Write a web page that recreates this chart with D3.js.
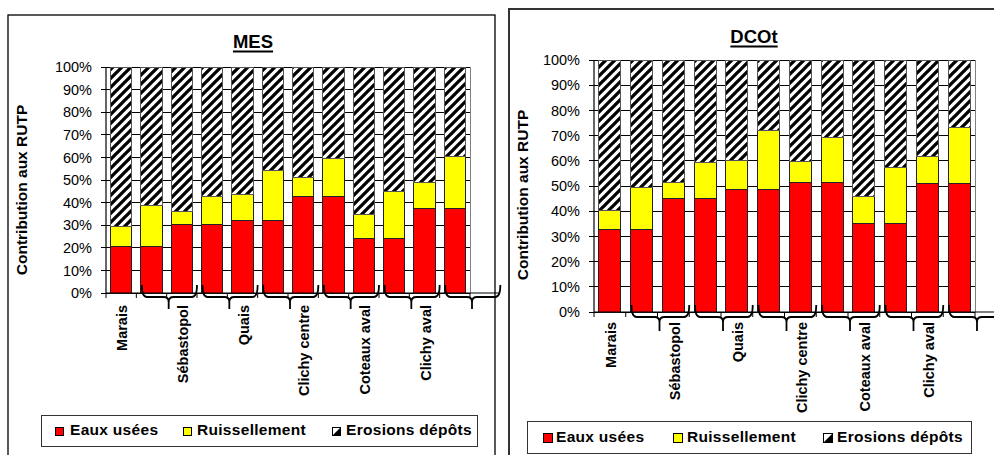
<!DOCTYPE html>
<html><head><meta charset="utf-8">
<script src="https://cdn.jsdelivr.net/npm/d3@7"></script>
<style>
html,body{margin:0;padding:0;background:#fff;}
svg{display:block;font-family:"Liberation Sans",Arial,sans-serif;}
</style></head>
<body>
<svg id="chart" width="994" height="455"></svg>
<script>
// ---- data ----
const categories = ["Marais","","Sébastopol","","Quais","","Clichy centre","","Coteaux aval","","Clichy aval",""];
const seriesNames = ["Eaux usées","Ruissellement","Erosions dépôts"];
const yTicks = [0,10,20,30,40,50,60,70,80,90,100];
const yTickLabels = ["0%","10%","20%","30%","40%","50%","60%","70%","80%","90%","100%"];

const mesEaux      = [20.6,20.6,30.1,30.1,31.9,31.9,42.6,42.6,24.3,24.3,37.2,37.2];
const mesRuiss     = [8.8,18.1,6.1,12.8,11.8,22.2,8.4,17.1,10.6,20.8,11.6,23.2];
const mesErosions  = [70.6,61.3,63.8,57.1,56.3,45.9,49.0,40.3,65.1,54.9,51.2,39.6];

const dcoEaux      = [32.6,32.6,44.9,44.9,48.5,48.5,51.4,51.4,35.0,35.0,51.0,51.0];
const dcoRuiss     = [7.7,16.8,6.5,14.4,11.6,23.6,8.3,17.8,11.0,22.3,10.8,22.2];
const dcoErosions  = [59.7,50.6,48.6,40.7,39.9,27.9,40.3,30.8,54.0,42.7,38.2,26.8];

// ---- drawing ----
const svg = d3.select("#chart");
const FONT = '"Liberation Sans",Arial,sans-serif';
const colors = ["#FF0000","#FFFF00","url(#hatch)"];

const defs = svg.append("defs");
const pat = defs.append("pattern").attr("id","hatch").attr("patternUnits","userSpaceOnUse")
  .attr("width",9).attr("height",9);
pat.append("rect").attr("width",9).attr("height",9).attr("fill","#fff");
pat.append("path").attr("d","M-2,11 L11,-2 M-6,6 L6,-6 M3,15 L15,3")
  .attr("stroke","#000").attr("stroke-width",3.3);

function drawChart(cfg){
  const g = svg.append("g");
  // frame
  g.append("rect").attr("x",cfg.frame[0]).attr("y",cfg.frame[1])
    .attr("width",cfg.frame[2]).attr("height",cfg.frame[3])
    .attr("fill","none").attr("stroke",cfg.frameColor).attr("stroke-width",cfg.frameWidth);

  const x = d3.scaleBand().domain(d3.range(categories.length))
    .range([cfg.x0,cfg.x1]).paddingInner(0.3).paddingOuter(0.15);
  const y = d3.scaleLinear().domain([0,100]).range([cfg.y0,cfg.y1]);
  const step = x.step();
  const bx = i => cfg.x0 + i*step;

  // gridlines
  g.append("g").selectAll("line").data(yTicks).join("line")
    .attr("x1",cfg.x0-5).attr("x2",cfg.x1).attr("y1",d=>y(d)).attr("y2",d=>y(d))
    .attr("stroke","#000").attr("stroke-width",1).attr("shape-rendering","crispEdges");
  // plot right edge
  g.append("line").attr("x1",cfg.x1).attr("x2",cfg.x1).attr("y1",y(100)).attr("y2",y(0))
    .attr("stroke","#808080").attr("shape-rendering","crispEdges");

  // y tick labels
  g.append("g").selectAll("text").data(yTicks).join("text")
    .attr("x",cfg.x0-14).attr("y",d=>y(d)).attr("dy","0.36em")
    .attr("text-anchor","end").attr("font-size",14.5).attr("font-family",FONT)
    .text((d,i)=>yTickLabels[i]);

  // stacked bars
  const rows = categories.map((c,i)=>({i, a:cfg.data[0][i], b:cfg.data[1][i], c:cfg.data[2][i]}));
  const stack = d3.stack().keys(["a","b","c"])(rows);
  stack.forEach((layer,k)=>{
    g.append("g").selectAll("rect").data(layer).join("rect")
      .attr("x",d=>x(d.data.i)).attr("width",x.bandwidth())
      .attr("y",d=>y(d[1])).attr("height",d=>y(d[0])-y(d[1]))
      .attr("fill",colors[k]).attr("stroke",k===2?"#555":"#222").attr("stroke-width",1)
      .attr("shape-rendering","crispEdges");
  });

  // axes lines
  g.append("line").attr("x1",cfg.x0).attr("x2",cfg.x0).attr("y1",y(100)).attr("y2",y(0))
    .attr("stroke","#000").attr("stroke-width",1.2);
  g.append("line").attr("x1",cfg.x0).attr("x2",cfg.axisEnd).attr("y1",y(0)).attr("y2",y(0))
    .attr("stroke","#000").attr("stroke-width",1.2);
  // x ticks at category boundaries
  g.append("g").selectAll("line").data(d3.range(categories.length+1)).join("line")
    .attr("x1",d=>bx(d)).attr("x2",d=>bx(d)).attr("y1",y(0)).attr("y2",y(0)+5)
    .attr("stroke","#000").attr("stroke-width",1);

  // braces grouping pairs
  const y0 = y(0);
  const braces = d3.range(6).map(k=>({L:bx(2*k+1)+0.18*step, C:bx(2*k+2)+2, R:bx(2*k+3)}));
  g.append("g").selectAll("path").data(braces).join("path")
    .attr("d",b=>{
      const a=y0+cfg.brArm, t=y0-cfg.brTop, p=y0+cfg.brPt, m=a+5;
      return `M${b.L},${t} Q${b.L},${a} ${b.L+5},${a} L${b.C-5},${a} Q${b.C},${a} ${b.C},${m} L${b.C},${p}`+
             ` M${b.C},${m} Q${b.C},${a} ${b.C+5},${a} L${b.R-5},${a} Q${b.R},${a} ${b.R},${t}`;
    })
    .attr("fill","none").attr("stroke","#000").attr("stroke-width",1.8);

  // category labels
  g.append("g").selectAll("text").data(categories.map((c,i)=>({c,i})).filter(d=>d.c)).join("text")
    .attr("transform",d=>`translate(${x(d.i)+x.bandwidth()/2+1},${cfg.labTop}) rotate(-90)`)
    .attr("dy","0.36em").attr("text-anchor","end")
    .attr("font-size",14.5).attr("font-weight","bold").attr("font-family",FONT)
    .text(d=>d.c);

  // title
  const tt = g.append("text").attr("x",cfg.titleX).attr("y",cfg.titleY)
    .attr("text-anchor","middle").attr("font-size",18.5).attr("font-weight","bold")
    .attr("font-family",FONT).text(cfg.title);
  const tw = tt.node().getComputedTextLength();
  g.append("rect").attr("x",cfg.titleX-tw/2).attr("y",cfg.titleY+2.5).attr("width",tw).attr("height",2).attr("fill","#000");

  // y label
  g.append("text").attr("transform",`translate(${cfg.ylabX},${cfg.ylabY}) rotate(-90)`)
    .attr("dy","0.36em").attr("text-anchor","middle").attr("font-size",15.5)
    .attr("font-weight","bold").attr("font-family",FONT).text("Contribution aux RUTP");

  // legend
  const lg = cfg.legend;
  g.append("rect").attr("x",lg.box[0]+0.5).attr("y",lg.box[1]+0.5).attr("width",lg.box[2]).attr("height",lg.box[3])
    .attr("fill","#fff").attr("stroke","#333").attr("stroke-width",1);
  seriesNames.forEach((n,k)=>{
    const sx = lg.sq[k], sy = lg.sqY, s = lg.sqS;
    if(k<2){
      g.append("rect").attr("x",sx+0.5).attr("y",sy+0.5).attr("width",s).attr("height",s)
        .attr("fill",colors[k]).attr("stroke","#000");
    } else {
      g.append("rect").attr("x",sx+0.5).attr("y",sy+0.5).attr("width",s).attr("height",s)
        .attr("fill","#fff").attr("stroke","#000");
      g.append("path").attr("d",`M${sx+s+0.5},${sy+0.5} L${sx+s+0.5},${sy+s+0.5} L${sx+0.5},${sy+s+0.5} Z`).attr("fill","#000");
    }
    g.append("text").attr("x",lg.tx[k]).attr("y",lg.ty).attr("font-size",15.5)
      .attr("font-weight","bold").attr("font-family",FONT).attr("letter-spacing",0.3).text(n);
  });
}

drawChart({
  title:"MES", data:[mesEaux,mesRuiss,mesErosions],
  frame:[8,15,487,470], frameColor:"#000", frameWidth:1.3,
  x0:106, x1:470, y0:293, y1:67, axisEnd:500,
  brArm:4, brTop:8, brPt:16, labTop:305,
  titleX:253, titleY:48, ylabX:21, ylabY:190,
  legend:{box:[41,415,436,31], sq:[55,183,332], sqY:427, sqS:8, tx:[70,197,346], ty:435}
});
drawChart({
  title:"DCOt", data:[dcoEaux,dcoRuiss,dcoErosions],
  frame:[509,9,500,470], frameColor:"#333", frameWidth:2,
  x0:594, x1:975, y0:312, y1:60, axisEnd:1000,
  brArm:5, brTop:7, brPt:19, labTop:322,
  titleX:754, titleY:43, ylabX:522, ylabY:195,
  legend:{box:[527,421,444,32], sq:[543,673,823], sqY:433, sqS:9, tx:[556,687,837], ty:442}
});
</script>
</body></html>
